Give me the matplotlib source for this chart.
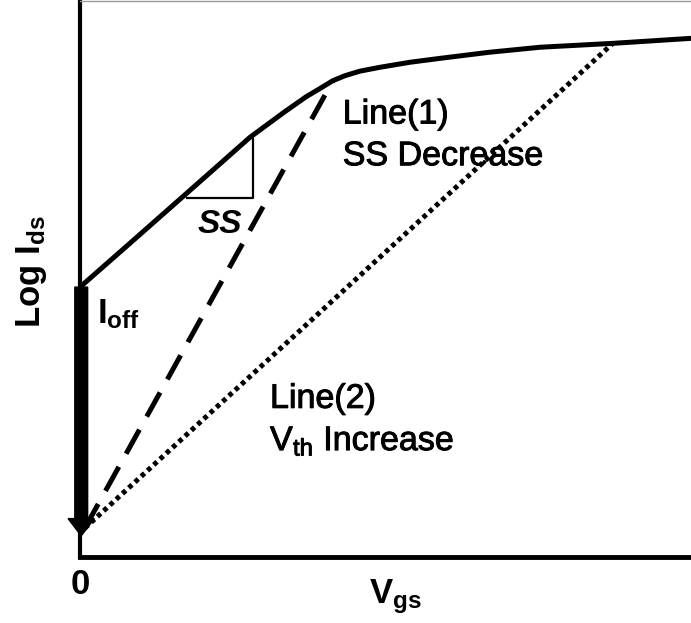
import numpy as np
import matplotlib
matplotlib.use('Agg')
import matplotlib.pyplot as plt
import matplotlib.patheffects as pe

plt.rcParams['font.family'] = 'Liberation Sans'
plt.rcParams['mathtext.default'] = 'regular'

# transfer curve (log scale), arbitrary units
vgs = [0.0, 0.82, 1.75, 2.78, 3.35, 3.70, 3.93, 4.14, 4.34, 4.58, 4.91, 5.40, 5.89,
       6.70, 7.53, 8.72, 10.0]
log_ids = [4.85, 5.64, 6.54, 7.54, 8.00, 8.27, 8.42, 8.56, 8.65, 8.73, 8.80, 8.89, 8.96,
           9.07, 9.16, 9.23, 9.32]

# line(1): SS decrease, line(2): Vth increase
line1_x = [0.08, 4.14]
line1_y = [0.52, 8.56]
line2_x = [0.08, 8.72]
line2_y = [0.52, 9.23]

# subthreshold slope triangle
ss_x = [1.75, 2.83, 2.83]
ss_y = [6.46, 6.46, 7.52]

# Ioff arrow
ioff_top = 4.85
ioff_tip = 0.38

fig = plt.figure(figsize=(6.91, 6.23), dpi=100)
ax = fig.add_axes([80/691, 66/623, 611/691, 556.5/623])

ax.plot(vgs, log_ids, 'k-', lw=3.6, solid_capstyle='round', solid_joinstyle='round')
ax.plot(line1_x, line1_y, 'k', lw=3.6, dashes=(5.5, 3))
ax.plot(line2_x, line2_y, 'k', lw=3.6, dashes=(0.9, 0.8))
ax.plot(ss_x, ss_y, 'k-', lw=1.6)

ax.arrow(0.02, ioff_top, 0, ioff_tip - ioff_top, width=0.21, head_width=0.43,
         head_length=0.31, length_includes_head=True, fc='k', ec='k',
         clip_on=False, zorder=5)

# slightly heavier text strokes
thick = [pe.withStroke(linewidth=0.7, foreground='k')]

ax.text(4.30, 7.79, 'Line(1)', fontsize=24.5, va='baseline', path_effects=thick)
ax.text(4.30, 7.04, 'SS Decrease', fontsize=24.5, va='baseline', path_effects=thick)
ax.text(3.11, 2.68, 'Line(2)', fontsize=24.5, va='baseline', path_effects=thick)
ax.text(3.11, 1.92, 'V$_{th}$ Increase', fontsize=24.5, va='baseline', path_effects=thick)
ax.text(0.28, 4.20, 'I$_{off}$', fontsize=25, fontweight='bold', va='baseline')
ax.text(2.29, 5.82, 'SS', fontsize=24, fontweight='bold', style='italic',
        ha='center', va='baseline')

ax.set_xlim(0, 10)
ax.set_ylim(0, 10)
ax.set_xticks([0])
ax.set_xticklabels(['0'], fontsize=25, fontweight='bold')
ax.set_yticks([])
ax.tick_params(axis='x', length=0, pad=8)

ax.set_xlabel('V$_{gs}$', fontsize=25, fontweight='bold')
ax.xaxis.set_label_coords(0.516, -0.036)
ax.set_ylabel('Log I$_{ds}$', fontsize=25, fontweight='bold')
ax.yaxis.set_label_coords(-0.051, 0.512)

ax.spines['left'].set_linewidth(3)
ax.spines['bottom'].set_linewidth(3.5)
ax.spines['top'].set_linewidth(1)
ax.spines['top'].set_color('#999999')
ax.spines['right'].set_visible(False)

plt.savefig('out.png', dpi=100)
